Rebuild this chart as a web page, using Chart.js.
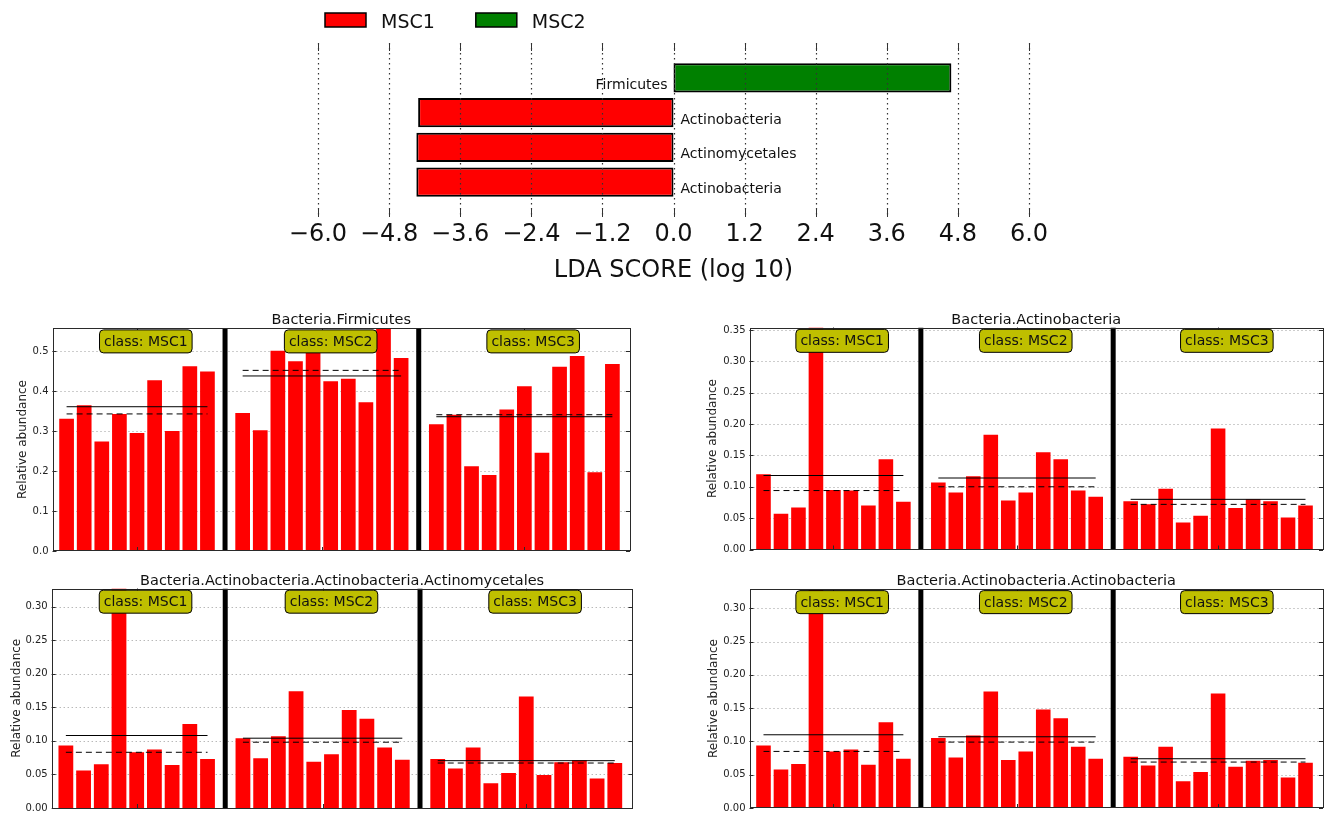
<!DOCTYPE html>
<html>
<head>
<meta charset="utf-8">
<title>LEfSe LDA scores and relative abundance</title>
<script src="https://cdn.jsdelivr.net/npm/chart.js"></script>
<style>
  html, body { margin: 0; padding: 0; background: #ffffff; }
  #page { position: relative; width: 1326px; height: 818px; overflow: hidden; background: #ffffff; }
  canvas { position: absolute; }
</style>
</head>
<body>
<div id="page">
  <canvas id="lda" width="1326" height="290" style="left:0px;top:0px"></canvas>
  <canvas id="pFirm" width="660" height="268" style="left:0px;top:296px"></canvas>
  <canvas id="pPhylum" width="666" height="268" style="left:660px;top:296px"></canvas>
  <canvas id="pOrder" width="660" height="258" style="left:0px;top:560px"></canvas>
  <canvas id="pClass" width="666" height="258" style="left:660px;top:560px"></canvas>
</div>
<script>
const FONT = '"DejaVu Sans", "Liberation Sans", sans-serif';
const INK = '#111111';

// ---- LDA effect size (log10) per discriminative feature ----
const ldaFeatures = ['Firmicutes', 'Actinobacteria', 'Actinomycetales', 'Actinobacteria'];
const ldaClasses = ['MSC2', 'MSC1', 'MSC1', 'MSC1'];
const ldaScores = [4.69, -4.31, -4.34, -4.34];
const ldaTickValues = [-6.0, -4.8, -3.6, -2.4, -1.2, 0.0, 1.2, 2.4, 3.6, 4.8, 6.0];
const ldaTickLabels = ['\u22126.0', '\u22124.8', '\u22123.6', '\u22122.4', '\u22121.2', '0.0', '1.2', '2.4', '3.6', '4.8', '6.0'];
const legendClasses = ['MSC1', 'MSC2'];
const legendColors = ['#ff0000', '#008000'];

// ---- relative abundance per sample, grouped by class ----
const classNames = ['MSC1', 'MSC2', 'MSC3'];

const firmicutesMSC1 = [0.331, 0.365, 0.274, 0.343, 0.295, 0.427, 0.300, 0.462, 0.449];
const firmicutesMSC2 = [0.345, 0.302, 0.501, 0.475, 0.496, 0.425, 0.431, 0.372, 0.558, 0.483];
const firmicutesMSC3 = [0.317, 0.341, 0.212, 0.190, 0.354, 0.412, 0.246, 0.461, 0.488, 0.197, 0.468];
const firmicutesMeans = [0.361, 0.438, 0.336];
const firmicutesMedians = [0.343, 0.452, 0.341];
const firmicutesTicks = ['0.0', '0.1', '0.2', '0.3', '0.4', '0.5'];

const phylumMSC1 = [0.120, 0.057, 0.067, 0.354, 0.095, 0.094, 0.070, 0.144, 0.076];
const phylumMSC2 = [0.107, 0.091, 0.117, 0.183, 0.078, 0.091, 0.155, 0.144, 0.094, 0.084];
const phylumMSC3 = [0.077, 0.072, 0.097, 0.043, 0.054, 0.193, 0.066, 0.080, 0.077, 0.051, 0.070];
const phylumMeans = [0.118, 0.114, 0.080];
const phylumMedians = [0.094, 0.100, 0.072];
const phylumTicks = ['0.00', '0.05', '0.10', '0.15', '0.20', '0.25', '0.30', '0.35'];

const orderMSC1 = [0.093, 0.056, 0.065, 0.327, 0.083, 0.087, 0.064, 0.125, 0.073];
const orderMSC2 = [0.104, 0.074, 0.107, 0.174, 0.069, 0.080, 0.146, 0.133, 0.090, 0.072];
const orderMSC3 = [0.073, 0.059, 0.090, 0.037, 0.052, 0.166, 0.049, 0.068, 0.071, 0.044, 0.067];
const orderMeans = [0.108, 0.104, 0.0705];
const orderMedians = [0.083, 0.098, 0.067];
const orderTicks = ['0.00', '0.05', '0.10', '0.15', '0.20', '0.25', '0.30'];

const classMSC1 = [0.094, 0.058, 0.066, 0.329, 0.085, 0.088, 0.065, 0.129, 0.074];
const classMSC2 = [0.105, 0.076, 0.109, 0.175, 0.072, 0.085, 0.148, 0.135, 0.092, 0.074];
const classMSC3 = [0.077, 0.064, 0.092, 0.040, 0.054, 0.172, 0.062, 0.071, 0.072, 0.046, 0.068];
const classMeans = [0.110, 0.107, 0.074];
const classMedians = [0.085, 0.099, 0.069];
const classTicks = ['0.00', '0.05', '0.10', '0.15', '0.20', '0.25', '0.30'];

// ---------------------------------------------------------------------------
// LDA bar chart
// ---------------------------------------------------------------------------
const ldaDecor = {
  id: 'ldaDecor',
  afterDatasetsDraw(chart) {
    const { ctx, chartArea: a, scales: { x, y } } = chart;
    ctx.save();
    // dotted grid over the bars, with short solid ticks at both ends
    ldaTickValues.forEach(v => {
      const px = Math.round(x.getPixelForValue(v)) + 0.5;
      ctx.strokeStyle = '#333333';
      ctx.lineWidth = 1.2;
      ctx.setLineDash([1.5, 3.5]);
      ctx.beginPath(); ctx.moveTo(px, a.top); ctx.lineTo(px, a.bottom); ctx.stroke();
      ctx.setLineDash([]);
      ctx.lineWidth = 1;
      ctx.beginPath();
      ctx.moveTo(px, a.top); ctx.lineTo(px, a.top + 8);
      ctx.moveTo(px, a.bottom); ctx.lineTo(px, a.bottom - 8);
      ctx.stroke();
    });
    // feature names beside the zero line
    const x0 = x.getPixelForValue(0);
    ctx.font = '14px ' + FONT;
    ctx.fillStyle = INK;
    ctx.textBaseline = 'alphabetic';
    ldaFeatures.forEach((name, i) => {
      const py = y.getPixelForValue(i) + 11;
      if (ldaScores[i] > 0) { ctx.textAlign = 'right'; ctx.fillText(name, x0 - 6, py); }
      else { ctx.textAlign = 'left'; ctx.fillText(name, x0 + 7, py); }
    });
    // legend row
    ctx.font = '19px ' + FONT;
    ctx.textAlign = 'left';
    let lx = 325;
    chart.data.datasets.forEach(ds => {
      ctx.fillStyle = ds.backgroundColor;
      ctx.fillRect(lx, 13, 41, 14);
      ctx.strokeStyle = '#000000';
      ctx.lineWidth = 1.5;
      ctx.strokeRect(lx, 13, 41, 14);
      ctx.fillStyle = INK;
      const tx = lx + 56;
      ctx.fillText(ds.label, tx, 28);
      lx = tx + ctx.measureText(ds.label).width + 41;
    });
    ctx.restore();
  }
};

// one row per feature, with an empty row of margin above and below
const ldaRowTicks = [-1, 0, 1, 2, 3, 4];

new Chart(document.getElementById('lda'), {
  type: 'bar',
  data: {
    datasets: legendClasses.map((cls, ci) => ({
      label: cls,
      data: ldaScores.map((s, i) => (ldaClasses[i] === cls ? { x: s, y: i } : null)).filter(Boolean),
      backgroundColor: legendColors[ci],
      borderColor: '#000000',
      borderWidth: 2,
      borderSkipped: false,
      barPercentage: 0.84,
      categoryPercentage: 1,
      grouped: false
    }))
  },
  options: {
    indexAxis: 'y',
    responsive: false,
    animation: false,
    devicePixelRatio: 1,
    layout: { padding: { left: 318, right: 297, top: 43, bottom: 0 } },
    plugins: { legend: { display: false }, tooltip: { enabled: false }, title: { display: false } },
    scales: {
      x: {
        type: 'linear', min: -6, max: 6, offset: false,
        afterBuildTicks: s => { s.ticks = ldaTickValues.map(v => ({ value: v })); },
        afterFit: s => { s.height = 73; },
        ticks: {
          autoSkip: false, maxRotation: 0, minRotation: 0, padding: 3,
          color: INK, font: { family: FONT, size: 24 },
          callback: (v, i) => ldaTickLabels[i]
        },
        grid: { display: false, drawTicks: false },
        border: { display: false },
        title: {
          display: true, text: 'LDA SCORE (log 10)', color: INK,
          font: { family: FONT, size: 24 }, padding: { top: 7, bottom: 5.3 }
        }
      },
      y: {
        type: 'linear', min: -1, max: 4, reverse: true, offset: false, display: false,
        afterBuildTicks: s => { s.ticks = ldaRowTicks.map(v => ({ value: v })); }
      }
    }
  },
  plugins: [ldaDecor]
});

// ---------------------------------------------------------------------------
// Per-feature abundance panels
// ---------------------------------------------------------------------------
function drawPanel(canvasId, spec) {
  const canvas = document.getElementById(canvasId);
  const box = {
    left: parseFloat(canvas.style.left), top: parseFloat(canvas.style.top),
    width: canvas.width, height: canvas.height
  };
  const area = spec.area;

  // sample positions: one slot per sample, one empty slot between classes
  const points = [];
  const spans = [];
  let pos = 0;
  spec.groups.forEach(g => {
    const start = pos;
    g.forEach(v => { points.push({ x: pos, y: v }); pos++; });
    spans.push({ start, end: pos - 1 });
    pos++;
  });
  const xMax = spans[spans.length - 1].end + 1;
  const yMax = Math.max(...points.map(p => p.y));
  const tickValues = spec.tickLabels.map(parseFloat);
  const separators = spans.slice(0, -1).map(s => s.end + 1);
  const slotTicks = points.map(p => p.x);

  const datasets = [];
  spans.forEach((s, i) => {
    datasets.push({
      type: 'line', data: [{ x: s.start, y: spec.means[i] }, { x: s.end, y: spec.means[i] }],
      borderColor: '#000000', borderWidth: 1, pointRadius: 0, order: 0
    });
    datasets.push({
      type: 'line', data: [{ x: s.start, y: spec.medians[i] }, { x: s.end, y: spec.medians[i] }],
      borderColor: '#000000', borderWidth: 1, borderDash: [6, 4], pointRadius: 0, order: 0
    });
  });
  separators.forEach(sx => {
    datasets.push({
      type: 'line', data: [{ x: sx, y: 0 }, { x: sx, y: yMax }],
      borderColor: '#000000', borderWidth: 5, pointRadius: 0, order: 1
    });
  });
  datasets.push({
    type: 'bar', data: points, backgroundColor: '#ff0000', borderWidth: 0,
    barPercentage: 0.835, categoryPercentage: 1, order: 2
  });

  const decor = {
    id: 'panelDecor',
    beforeDatasetsDraw(chart) {
      const { ctx, chartArea: a, scales: { y } } = chart;
      ctx.save();
      ctx.strokeStyle = '#9a9a9a';
      ctx.lineWidth = 1;
      ctx.setLineDash([1, 3]);
      tickValues.forEach(v => {
        if (v <= 0) return;
        const py = Math.round(y.getPixelForValue(v)) + 0.5;
        ctx.beginPath(); ctx.moveTo(a.left, py); ctx.lineTo(a.right, py); ctx.stroke();
      });
      ctx.restore();
    },
    afterDatasetsDraw(chart) {
      const { ctx, chartArea: a, scales: { x, y } } = chart;
      ctx.save();
      // axes frame
      ctx.strokeStyle = '#2a2a2a';
      ctx.lineWidth = 1;
      ctx.strokeRect(Math.round(a.left) + 0.5, Math.round(a.top) + 0.5,
        Math.round(a.right - a.left) - 1, Math.round(a.bottom - a.top) - 1);
      // inward tick marks
      ctx.beginPath();
      tickValues.forEach(v => {
        const py = Math.round(y.getPixelForValue(v)) + 0.5;
        ctx.moveTo(a.left, py); ctx.lineTo(a.left + 4, py);
        ctx.moveTo(a.right, py); ctx.lineTo(a.right - 4, py);
      });
      spans.forEach(s => {
        const px = Math.round(x.getPixelForValue((s.start + s.end) / 2)) + 0.5;
        ctx.moveTo(px, a.top); ctx.lineTo(px, a.top + 4);
        ctx.moveTo(px, a.bottom); ctx.lineTo(px, a.bottom - 4);
      });
      ctx.stroke();
      // class labels
      ctx.font = '14px ' + FONT;
      ctx.textAlign = 'center';
      ctx.textBaseline = 'middle';
      const cy = a.top + 0.06 * (a.bottom - a.top);
      spans.forEach((s, i) => {
        const label = 'class: ' + classNames[i];
        const cx = x.getPixelForValue((s.start + s.end) / 2 + 0.5);
        const w = ctx.measureText(label).width + 9;
        const h = 23;
        ctx.beginPath();
        ctx.roundRect(cx - w / 2, cy - h / 2, w, h, 4);
        ctx.fillStyle = '#bfbf00';
        ctx.fill();
        ctx.strokeStyle = '#000000';
        ctx.lineWidth = 1;
        ctx.stroke();
        ctx.fillStyle = INK;
        ctx.fillText(label, cx, cy + 1);
      });
      // panel title
      ctx.font = '14.5px ' + FONT;
      ctx.textBaseline = 'alphabetic';
      ctx.fillStyle = INK;
      ctx.fillText(spec.title, (a.left + a.right) / 2, a.top - 4);
      ctx.restore();
    }
  };

  new Chart(canvas, {
    type: 'bar',
    data: { datasets },
    options: {
      responsive: false,
      animation: false,
      devicePixelRatio: 1,
      layout: {
        padding: {
          left: 0,
          top: area.top - box.top,
          right: box.left + box.width - area.right,
          bottom: box.top + box.height - area.bottom
        }
      },
      plugins: { legend: { display: false }, tooltip: { enabled: false }, title: { display: false } },
      scales: {
        x: {
          type: 'linear', min: -0.8, max: xMax, offset: false, display: false,
          afterBuildTicks: s => { s.ticks = slotTicks.map(v => ({ value: v })); }
        },
        y: {
          type: 'linear', min: 0, max: yMax, offset: false,
          afterFit: s => { s.width = area.left - box.left; },
          afterBuildTicks: s => { s.ticks = tickValues.map(v => ({ value: v })); },
          ticks: {
            autoSkip: false, padding: 4, color: '#222222',
            font: { family: FONT, size: 10 },
            callback: (v, i) => spec.tickLabels[i]
          },
          grid: { display: false, drawTicks: false },
          border: { display: false },
          title: {
            display: true, text: 'Relative abundance', color: '#222222',
            font: { family: FONT, size: 12 },
            padding: { top: spec.yTitlePad, bottom: 0 }
          }
        }
      }
    },
    plugins: [decor]
  });
}

drawPanel('pFirm', {
  title: 'Bacteria.Firmicutes',
  groups: [firmicutesMSC1, firmicutesMSC2, firmicutesMSC3],
  means: firmicutesMeans, medians: firmicutesMedians, tickLabels: firmicutesTicks,
  area: { left: 52.5, top: 328, right: 630, bottom: 551 }, yTitlePad: 15.9
});
drawPanel('pPhylum', {
  title: 'Bacteria.Actinobacteria',
  groups: [phylumMSC1, phylumMSC2, phylumMSC3],
  means: phylumMeans, medians: phylumMedians, tickLabels: phylumTicks,
  area: { left: 749.5, top: 327.5, right: 1323, bottom: 549.5 }, yTitlePad: 45.9
});
drawPanel('pOrder', {
  title: 'Bacteria.Actinobacteria.Actinobacteria.Actinomycetales',
  groups: [orderMSC1, orderMSC2, orderMSC3],
  means: orderMeans, medians: orderMedians, tickLabels: orderTicks,
  area: { left: 51.7, top: 588.5, right: 632.5, bottom: 812.3 }, yTitlePad: 9.2
});
drawPanel('pClass', {
  title: 'Bacteria.Actinobacteria.Actinobacteria',
  groups: [classMSC1, classMSC2, classMSC3],
  means: classMeans, medians: classMedians, tickLabels: classTicks,
  area: { left: 749.5, top: 589, right: 1323, bottom: 811.7 }, yTitlePad: 46.5
});
</script>
</body>
</html>
